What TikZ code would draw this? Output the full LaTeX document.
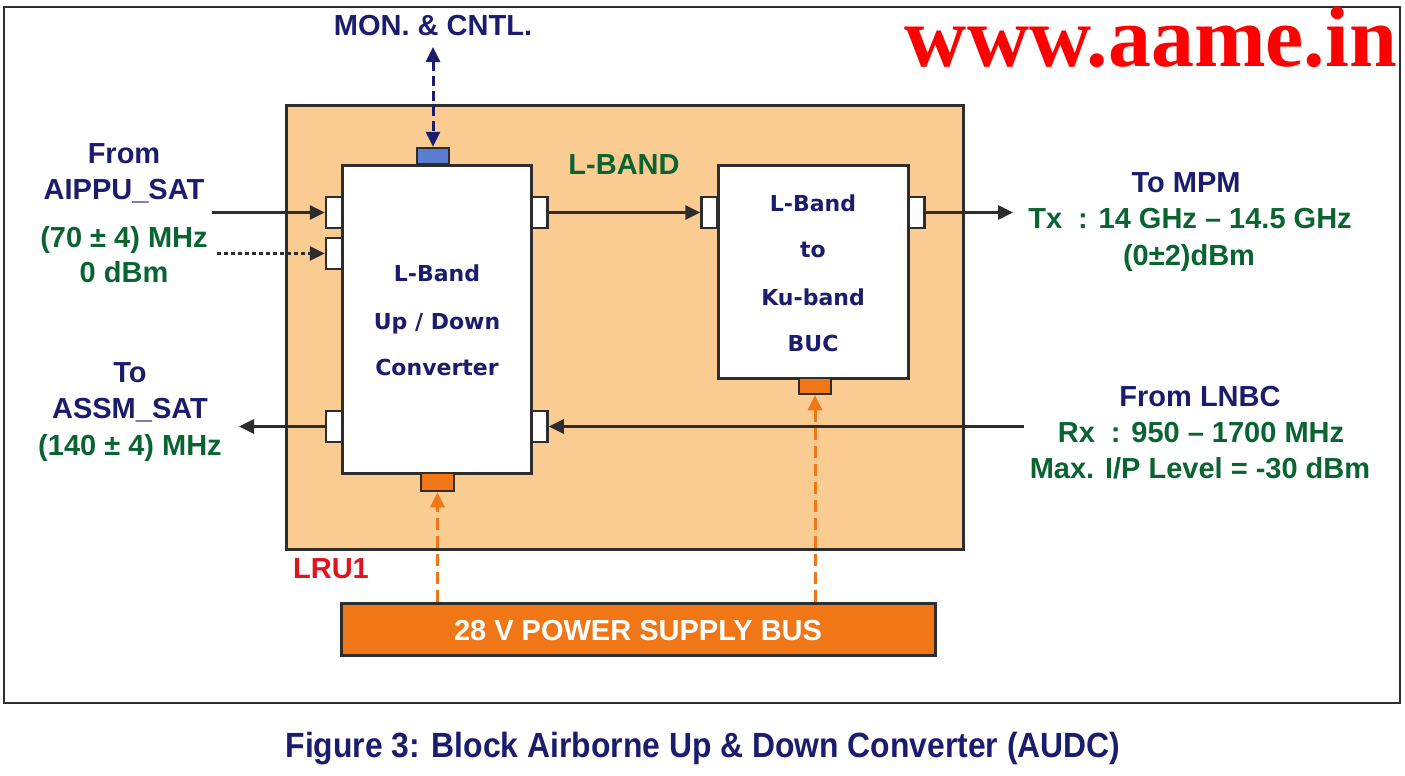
\documentclass[tikz,border=0pt]{standalone}
\usepackage{fontspec}
\setmainfont{Liberation Sans}
\newfontfamily\blockfont{DejaVu Sans}
\newfontfamily\wwwfont{Liberation Serif}
\newfontfamily\capfont{Liberation Sans}[FakeStretch=0.91]
\usetikzlibrary{arrows.meta}
\definecolor{navy}{RGB}{28,28,110}
\definecolor{dgreen}{RGB}{10,100,50}
\definecolor{lru}{RGB}{250,204,146}
\definecolor{busor}{RGB}{240,118,22}
\definecolor{cblue}{RGB}{90,125,210}
\definecolor{lrured}{RGB}{225,20,30}
\definecolor{edge}{RGB}{45,45,45}
\begin{document}
\begin{tikzpicture}[x=1bp,y=-1bp,
  lbl/.style={font=\bfseries\fontsize{29bp}{34bp}\selectfont,inner sep=0pt,text height=21bp,text depth=0pt},
  blk/.style={font=\blockfont\bfseries\fontsize{22bp}{26bp}\selectfont,text=navy,inner sep=0pt,text height=16bp,text depth=0pt},
  box/.style={draw=edge,fill=white,line width=3bp,inner sep=0pt},
  port/.style={draw=edge,fill=white,line width=2.5bp,minimum width=16bp,minimum height=31bp,inner sep=0pt},
  conn/.style={draw=edge,line width=2.5bp,minimum width=32bp,minimum height=16bp,inner sep=0pt},
  arr/.style={draw=edge,line width=3bp,-{Triangle[length=15bp,width=14bp]}},
  pwr/.style={draw=busor,line width=3bp,dash pattern=on 12bp off 6bp,-{Triangle[length=15bp,width=14bp]}}
]
\useasboundingbox (0,0) rectangle (1405,775);
\draw[line width=2bp,edge] (4,7) rectangle (1400,703);

% LRU
\node[draw=edge,fill=lru,line width=3bp,minimum width=677bp,minimum height=443bp,inner sep=0pt] (lru) at (624.5,327.5) {};
\node[lbl,text=dgreen] (lband) at (624,164) {L-BAND};
\node[lbl,text=lrured] (lru1) at (331,568) {LRU1};

% blocks
\node[box,minimum width=189bp,minimum height=307bp] (conv) at (436.5,319.5) {};
\node[box,minimum width=190bp,minimum height=213bp] (buc) at (813,271.5) {};

\node[blk] (c1) at (437,273) {L-Band};
\node[blk] (c2) at (437,321) {Up / Down};
\node[blk] (c3) at (437,367) {Converter};
\node[blk] (u1) at (813,203) {L-Band};
\node[blk] (u2) at (813,249) {to};
\node[blk] (u3) at (813,297) {Ku-band};
\node[blk] (u4) at (813,343) {BUC};

% ports
\node[port] (p1) at (334,212.5) {};
\node[port] (p2) at (334,253.5) {};
\node[port] (p3) at (334,426.5) {};
\node[port] (p4) at (539.5,212.5) {};
\node[port] (p5) at (539.5,426.5) {};
\node[port] (b1) at (709.5,212.5) {};
\node[port] (b2) at (916.5,212.5) {};

\node[conn,fill=cblue] (cb) at (433,156) {};
\node[conn,fill=busor,minimum width=33bp,minimum height=18bp] (oc1) at (437.5,482) {};
\node[conn,fill=busor] (oc2) at (815,386) {};

% power bus
\node[draw=edge,fill=busor,line width=3bp,minimum width=594bp,minimum height=52bp,inner sep=0pt] (bus) at (638,629) {};
\node[lbl,text=white] (bustxt) at (638,629.5) {28 V POWER SUPPLY BUS};

% labels
\node[lbl,text=navy] (mon) at (433,25) {MON. \& CNTL.};
\node[lbl,text=navy] (l1) at (124,153) {From};
\node[lbl,text=navy] (l2) at (124,189) {AIPPU\_SAT};
\node[lbl,text=dgreen] (l3) at (124,237) {(70 ± 4) MHz};
\node[lbl,text=dgreen] (l4) at (124,272) {0 dBm};
\node[lbl,text=navy] (l5) at (130,372) {To};
\node[lbl,text=navy] (l6) at (130,408) {ASSM\_SAT};
\node[lbl,text=dgreen] (l7) at (130,445) {(140 ± 4) MHz};
\node[lbl,text=navy] (r1) at (1186,182) {To MPM};
\node[lbl,text=dgreen] (r2) at (1190,218) {Tx\ \ : 14 GHz – 14.5 GHz};
\node[lbl,text=dgreen] (r3) at (1189,255) {(0±2)dBm};
\node[lbl,text=navy] (r4) at (1200,396) {From LNBC};
\node[lbl,text=dgreen] (r5) at (1201,432) {Rx\ \ : 950 – 1700 MHz};
\node[lbl,text=dgreen] (r6) at (1200,468) {Max. I/P Level = -30 dBm};

\node[anchor=base,font=\wwwfont\bfseries\fontsize{86bp}{90bp}\selectfont,text=red,inner sep=0pt] (www) at (1151,67) {www.aame.in};
\node[font=\capfont\bfseries\fontsize{35bp}{40bp}\selectfont,text=navy,inner sep=0pt,text height=25bp,text depth=0pt] (cap) at (703,745) {Figure 3: Block Airborne Up \& Down Converter (AUDC)};

% connectors
\coordinate (inA) at (212,212.5);
\coordinate (inB) at (217,253.5);
\coordinate (outA) at (239,426.5);
\coordinate (outT) at (1013,212.5);
\coordinate (rxIn) at (1024,426.5);
\coordinate (monTop) at (433,47);

\draw[arr] (inA) -- (p1.west);
\draw[arr,dash pattern=on 4bp off 3bp] (inB) -- (p2.west);
\draw[arr] (p3.west) -- (outA);
\draw[arr] (p4.east) -- (b1.west);
\draw[arr] (b2.east) -- (outT);
\draw[arr] (rxIn) -- (p5.east);
\draw[draw=navy,line width=3bp,dash pattern=on 10bp off 5bp,{Triangle[length=15bp,width=14bp]}-{Triangle[length=15bp,width=14bp]}] (monTop) -- (cb.north);
\draw[pwr] (oc1 |- bus.north) -- (oc1.south);
\draw[pwr] (oc2 |- bus.north) -- (oc2.south);
\end{tikzpicture}
\end{document}
